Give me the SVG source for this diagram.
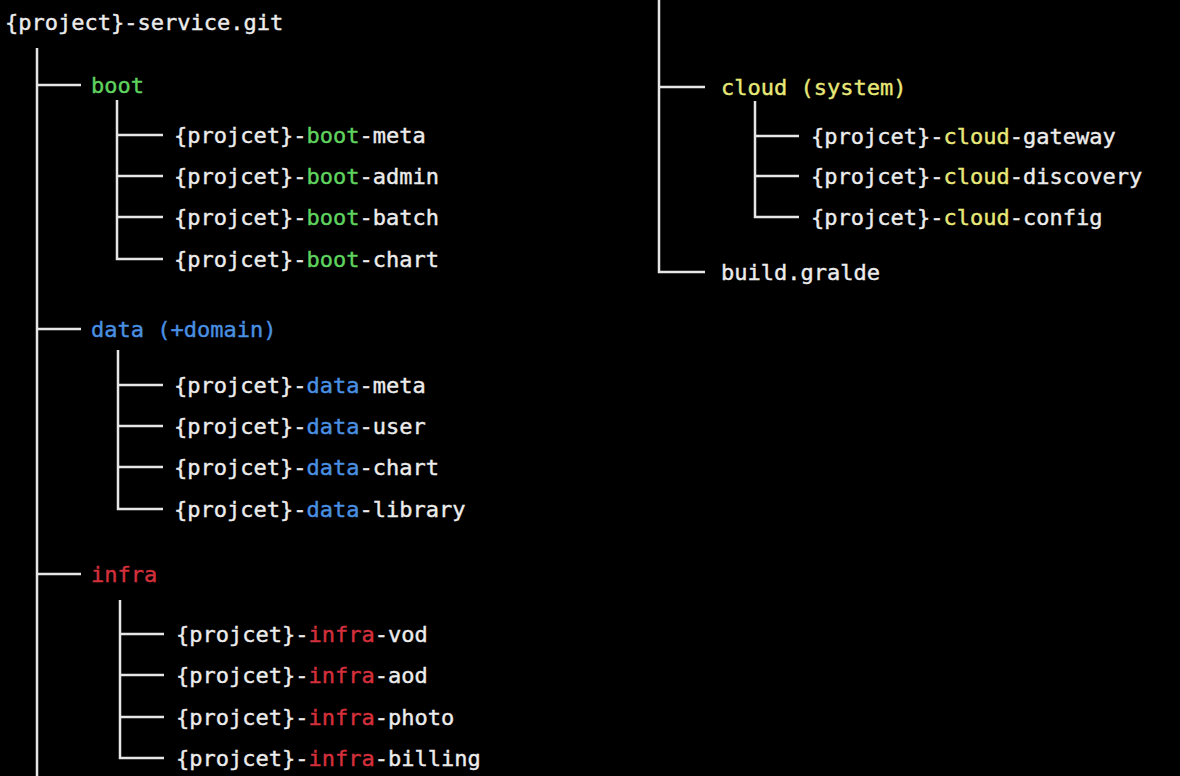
<svg xmlns="http://www.w3.org/2000/svg" width="1180" height="776" viewBox="0 0 1180 776">
<style>
text{font-family:"DejaVu Sans Mono","Liberation Mono",monospace;font-size:22px;fill:#ececec;stroke:#ececec;stroke-width:0.4}
.g{fill:#5fd35f;stroke:#5fd35f}.b{fill:#4a90e2;stroke:#4a90e2}.r{fill:#d4303c;stroke:#d4303c}.y{fill:#e8e878;stroke:#e8e878}
.ln{stroke:#e6e6e6;stroke-width:2.5;fill:none}
</style>
<rect width="1180" height="776" fill="#000"/>
<g id="connectors" class="ln">
<path d="M37 48V776M37 85H81M37 329H81M37 574H81"/>
<path d="M117 100V259H163M117 135H163M117 176H163M117 217H163"/>
<path d="M118 350V509H163M118 385H163M118 426H163M118 467H163"/>
<path d="M120 600V758H164M120 634H164M120 675H164M120 717H164"/>
<path d="M659 0V272H705M659 87H705"/>
<path d="M755 101V217H799M755 136H799M755 176H799"/>
</g>
<g id="root"><text x="5" y="30">{project}-service.git</text></g>
<g id="boot"><text x="91" y="93" class="g">boot</text></g>
<g id="boot-meta"><text x="174" y="143">{projcet}-<tspan class="g">boot</tspan>-meta</text></g>
<g id="boot-admin"><text x="174" y="184">{projcet}-<tspan class="g">boot</tspan>-admin</text></g>
<g id="boot-batch"><text x="174" y="225">{projcet}-<tspan class="g">boot</tspan>-batch</text></g>
<g id="boot-chart"><text x="174" y="267">{projcet}-<tspan class="g">boot</tspan>-chart</text></g>
<g id="data"><text x="91" y="337" class="b">data (+domain)</text></g>
<g id="data-meta"><text x="174" y="393">{projcet}-<tspan class="b">data</tspan>-meta</text></g>
<g id="data-user"><text x="174" y="434">{projcet}-<tspan class="b">data</tspan>-user</text></g>
<g id="data-chart"><text x="174" y="475">{projcet}-<tspan class="b">data</tspan>-chart</text></g>
<g id="data-library"><text x="174" y="517">{projcet}-<tspan class="b">data</tspan>-library</text></g>
<g id="infra"><text x="91" y="582" class="r">infra</text></g>
<g id="infra-vod"><text x="176" y="642">{projcet}-<tspan class="r">infra</tspan>-vod</text></g>
<g id="infra-aod"><text x="176" y="683">{projcet}-<tspan class="r">infra</tspan>-aod</text></g>
<g id="infra-photo"><text x="176" y="725">{projcet}-<tspan class="r">infra</tspan>-photo</text></g>
<g id="infra-billing"><text x="176" y="766">{projcet}-<tspan class="r">infra</tspan>-billing</text></g>
<g id="cloud"><text x="721" y="95" class="y">cloud (system)</text></g>
<g id="cloud-gateway"><text x="811" y="144">{projcet}-<tspan class="y">cloud</tspan>-gateway</text></g>
<g id="cloud-discovery"><text x="811" y="184">{projcet}-<tspan class="y">cloud</tspan>-discovery</text></g>
<g id="cloud-config"><text x="811" y="225">{projcet}-<tspan class="y">cloud</tspan>-config</text></g>
<g id="build"><text x="721" y="280">build.gralde</text></g>
</svg>
